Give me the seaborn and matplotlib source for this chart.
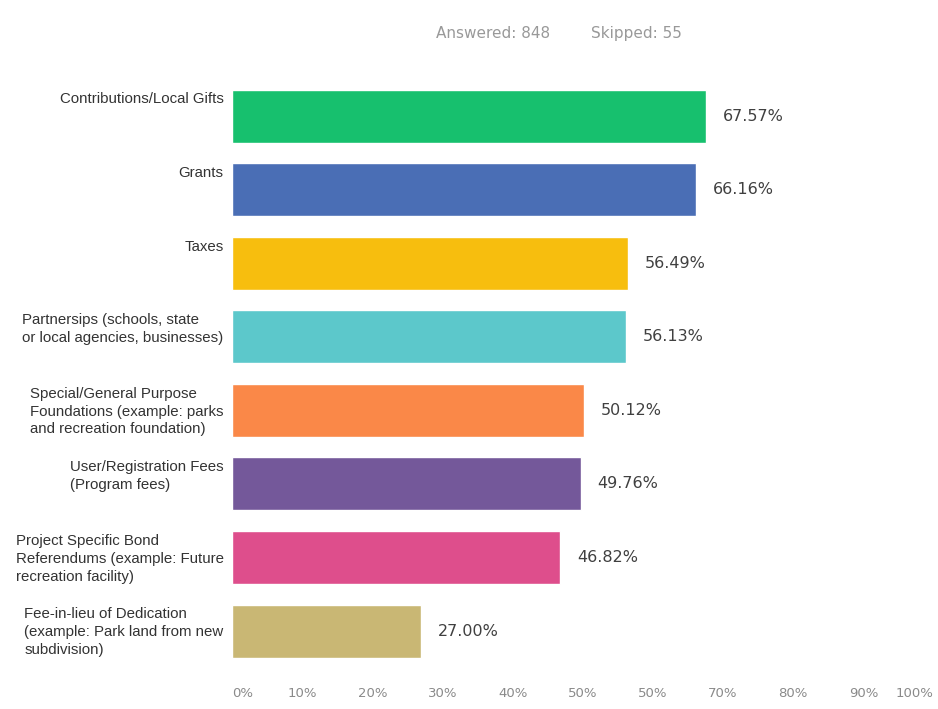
import matplotlib
matplotlib.use("Agg")
import matplotlib.pyplot as plt
import seaborn as sns
import pandas as pd

# Funding sources and share of respondents selecting each
categories = [
    "Contributions/Local Gifts",
    "Grants",
    "Taxes",
    "Partnersips (schools, state\nor local agencies, businesses)",
    "Special/General Purpose\nFoundations (example: parks\nand recreation foundation)",
    "User/Registration Fees\n(Program fees)",
    "Project Specific Bond\nReferendums (example: Future\nrecreation facility)",
    "Fee-in-lieu of Dedication\n(example: Park land from new\nsubdivision)",
]
percentages = [67.57, 66.16, 56.49, 56.13, 50.12, 49.76, 46.82, 27.00]
bar_colors = ["#17C06E", "#4A6EB5", "#F7BE0E", "#5CC8CB",
              "#FA8848", "#74589A", "#DE4E8C", "#C9B774"]
tick_values = [0, 10, 20, 30, 40, 50, 60, 70, 80, 90, 100]
tick_labels = ["0%", "10%", "20%", "30%", "40%", "50%", "50%",
               "70%", "80%", "90%", "100%"]
answered = 848
skipped = 55

df = pd.DataFrame({"category": categories, "pct": percentages})

sns.set_theme(style="white")
plt.rcParams["font.family"] = ["DejaVu Sans"]

fig = plt.figure(figsize=(9.38, 7.09), dpi=100)
ax = fig.add_axes([232 / 938, 0.058, 701.5 / 938, 0.83])

sns.barplot(data=df, y="category", x="pct", hue="category",
            palette=bar_colors, order=categories, hue_order=categories,
            orient="h", width=0.72, legend=False, saturation=1, ax=ax)

ax.set_xlim(0, 100)
ax.set_ylim(len(categories) - 0.5, -0.5)
ax.set_xlabel("")
ax.set_ylabel("")
ax.set_yticks([])
for s in ax.spines.values():
    s.set_visible(False)

ax.set_xticks(tick_values)
ax.set_xticklabels(tick_labels, fontsize=9.5, color="#8a8a8a")
ax.tick_params(axis="x", length=0, pad=14)
xt = ax.get_xticklabels()
xt[0].set_horizontalalignment("left")
xt[-1].set_horizontalalignment("right")

# Value labels to the right of each bar
for i, v in enumerate(percentages):
    ax.annotate(f"{v:.2f}%", xy=(v, i), xytext=(12, 0),
                textcoords="offset points", va="center", ha="left",
                fontsize=11.5, color="#404040")

# Category labels, right-aligned to the bar start, text left-aligned
for i, name in enumerate(categories):
    ax.annotate(name, xy=(0, i - 0.36), xycoords=("axes fraction", "data"),
                xytext=(-6, -2), textcoords="offset points",
                ha="right", va="top", multialignment="left",
                fontsize=10.8, color="#333333", linespacing=1.35,
                family=["Liberation Sans", "DejaVu Sans"])

fig.text(0.526, 0.953, f"Answered: {answered}", ha="center", va="center",
         fontsize=11, color="#999999")
fig.text(0.678, 0.953, f"Skipped: {skipped}", ha="center", va="center",
         fontsize=11, color="#999999")

fig.savefig("out.png", dpi=100, facecolor="white")
